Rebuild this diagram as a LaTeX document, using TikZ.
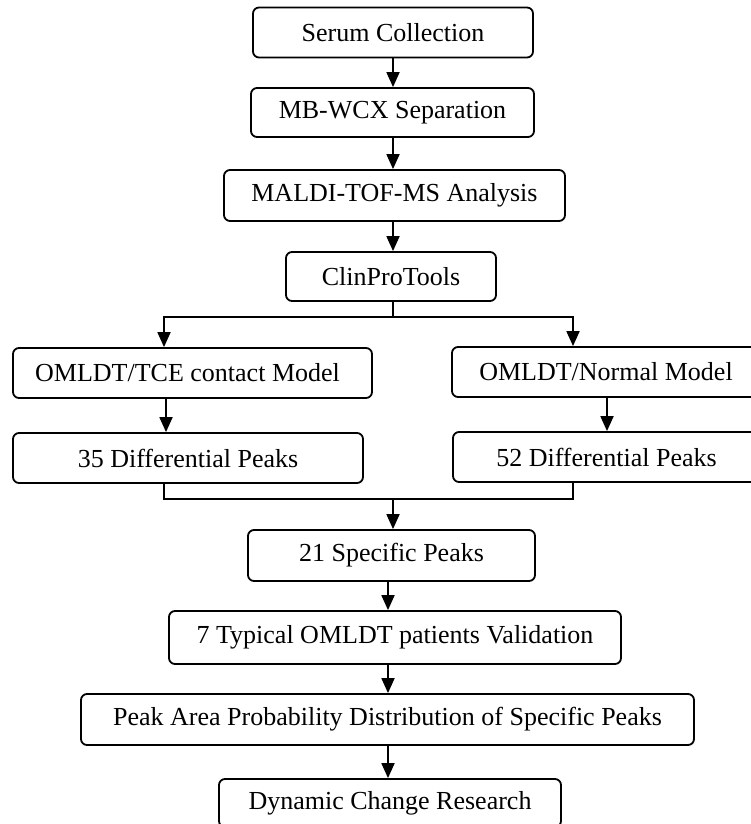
\documentclass[tikz,border=0pt]{standalone}
\usepackage{fontspec}
\setmainfont{Liberation Serif}
\usetikzlibrary{arrows.meta}
\begin{document}
\begin{tikzpicture}[x=1pt,y=-1pt,
  box/.style={draw, line width=1.8pt, rounded corners=6pt, rectangle, inner sep=0pt,
    font=\fontsize{26}{30}\selectfont, align=center},
  arr/.style={line width=1.8pt, -{Triangle[length=15pt,width=13pt]}},
  ln/.style={line width=1.8pt}]
\useasboundingbox (0,0) rectangle (751,824);
\clip (0,0) rectangle (751,824);
\node[box, minimum width=280pt, minimum height=50pt] (serum) at (393,32.5) {Serum Collection};
\node[box, minimum width=283pt, minimum height=49pt] (mbwcx) at (392.5,112.5) {MB-WCX Separation};
\node[box, minimum width=341pt, minimum height=51pt] (maldi) at (394.5,195.5) {MALDI-TOF-MS Analysis};
\node[box, minimum width=210pt, minimum height=49pt] (clin) at (391,276.5) {ClinProTools};
\node[box, minimum width=359pt, minimum height=50pt] (tce) at (192.5,373) {\hspace*{-10pt}OMLDT/TCE contact Model};
\node[box, minimum width=308pt, minimum height=50pt] (normal) at (606,372) {OMLDT/Normal Model};
\node[box, minimum width=350pt, minimum height=50pt] (d35) at (188,458) {35 Differential Peaks};
\node[box, minimum width=307pt, minimum height=50pt] (d52) at (606.5,457) {52 Differential Peaks};
\node[box, minimum width=287pt, minimum height=51pt] (spec) at (391.5,555.5) {21 Specific Peaks};
\node[box, minimum width=452pt, minimum height=53pt] (typ) at (395,637.5) {7 Typical OMLDT patients Validation};
\node[box, minimum width=613pt, minimum height=51pt] (peak) at (387.5,719.5) {Peak Area Probability Distribution of Specific Peaks};
\node[box, minimum width=342pt, minimum height=48pt] (dyn) at (390,803) {Dynamic Change Research};
\coordinate (xa) at (393,0);
\coordinate (xb) at (388,0);
\coordinate (bl) at (164,317);
\coordinate (bm) at (393,317);
\coordinate (brr) at (573,317);
\coordinate (ml) at (164,499);
\coordinate (mm) at (393,499);
\coordinate (mr) at (573,499);
\coordinate (al) at (166,0);
\coordinate (ar) at (607,0);
\draw[arr] (xa |- serum.south) -- (xa |- mbwcx.north);
\draw[arr] (xa |- mbwcx.south) -- (xa |- maldi.north);
\draw[arr] (xa |- maldi.south) -- (xa |- clin.north);
\draw[ln] (xa |- clin.south) -- (bm);
\draw[arr] (bm) -| (bl |- tce.north);
\draw[arr] (bm) -| (brr |- normal.north);
\draw[arr] (al |- tce.south) -- (al |- d35.north);
\draw[arr] (ar |- normal.south) -- (ar |- d52.north);
\draw[ln] (ml |- d35.south) -- (ml) -- (mr) -- (mr |- d52.south);
\draw[arr] (mm) -- (mm |- spec.north);
\draw[arr] (xb |- spec.south) -- (xb |- typ.north);
\draw[arr] (xb |- typ.south) -- (xb |- peak.north);
\draw[arr] (xb |- peak.south) -- (xb |- dyn.north);
\end{tikzpicture}
\end{document}
